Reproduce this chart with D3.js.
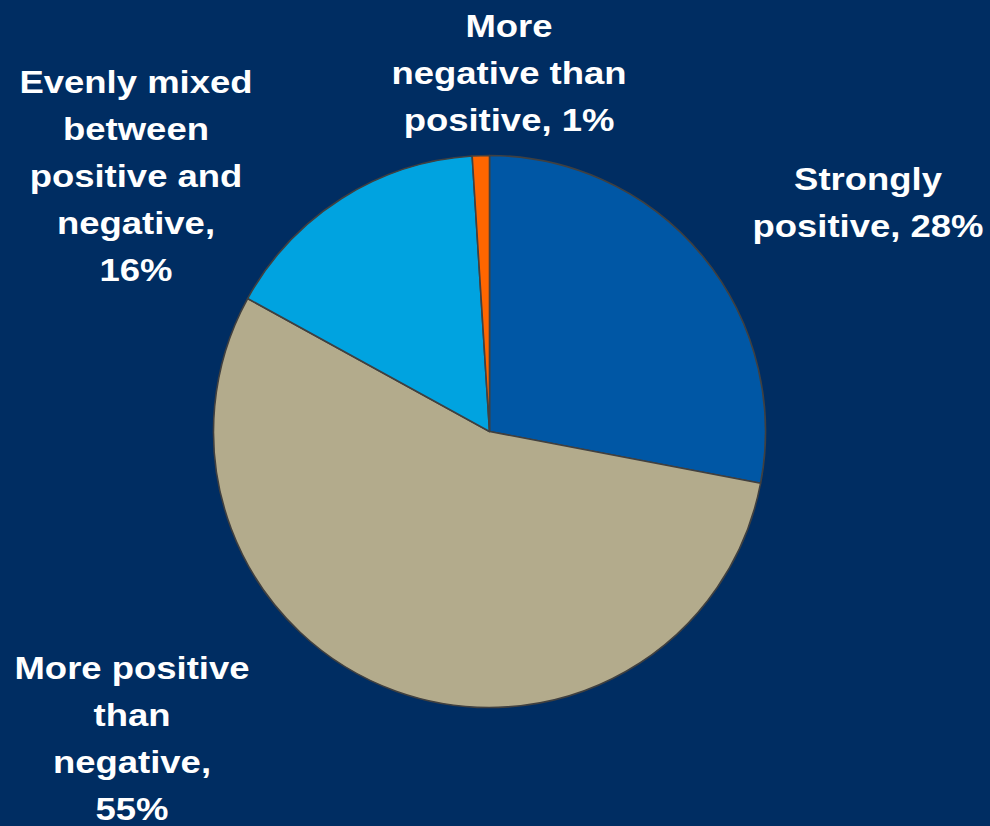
<!DOCTYPE html>
<html>
<head>
<meta charset="utf-8">
<script src="https://cdn.jsdelivr.net/npm/d3@7"></script>
<style>
  html, body { margin: 0; padding: 0; background: #002D62; }
  svg { display: block; }
</style>
</head>
<body>
<svg id="chart" width="990" height="826"></svg>
<script>
// Survey responses, clockwise from 12 o'clock
const categories = [
  "Strongly positive",
  "More positive than negative",
  "Evenly mixed between positive and negative",
  "More negative than positive"
];
const values = [28, 55, 16, 1];
const colors = ["#0057A5", "#B3AB8C", "#00A3E0", "#FF6600"];

// Label text broken into lines, with each block's anchor point
const labelLines = [
  ["Strongly", "positive, 28%"],
  ["More positive", "than", "negative,", "55%"],
  ["Evenly mixed", "between", "positive and", "negative,", "16%"],
  ["More", "negative than", "positive, 1%"]
];
const labelAnchors = [
  { x: 868, y: 190 },
  { x: 132, y: 679 },
  { x: 136, y: 93 },
  { x: 509, y: 37 }
];

const svg = d3.select("#chart");
const cx = 489.5, cy = 431.5, radius = 276;

const pie = d3.pie().sort(null).value(d => d.value);
const arc = d3.arc().innerRadius(0).outerRadius(radius);

const data = categories.map((c, i) => ({ name: c, value: values[i], color: colors[i] }));

const g = svg.append("g").attr("transform", `translate(${cx},${cy})`);
g.selectAll("path")
  .data(pie(data))
  .join("path")
  .attr("d", arc)
  .attr("fill", d => d.data.color)
  .attr("stroke", "#404040")
  .attr("stroke-width", 1.6)
  .attr("stroke-linejoin", "round");

// Labels: bold sans, slightly widened
const lineGap = 47;
const labels = svg.append("g")
  .attr("font-family", "'Liberation Sans', Arial, sans-serif")
  .attr("font-weight", "bold")
  .attr("font-size", 32)
  .attr("fill", "#FFFFFF")
  .attr("text-anchor", "middle");

labelLines.forEach((lines, i) => {
  const a = labelAnchors[i];
  const t = labels.append("text")
    .attr("transform", `translate(${a.x},${a.y}) scale(1.14,1)`);
  lines.forEach((ln, j) => {
    t.append("tspan").attr("x", 0).attr("y", j * lineGap).text(ln);
  });
});
</script>
</body>
</html>
